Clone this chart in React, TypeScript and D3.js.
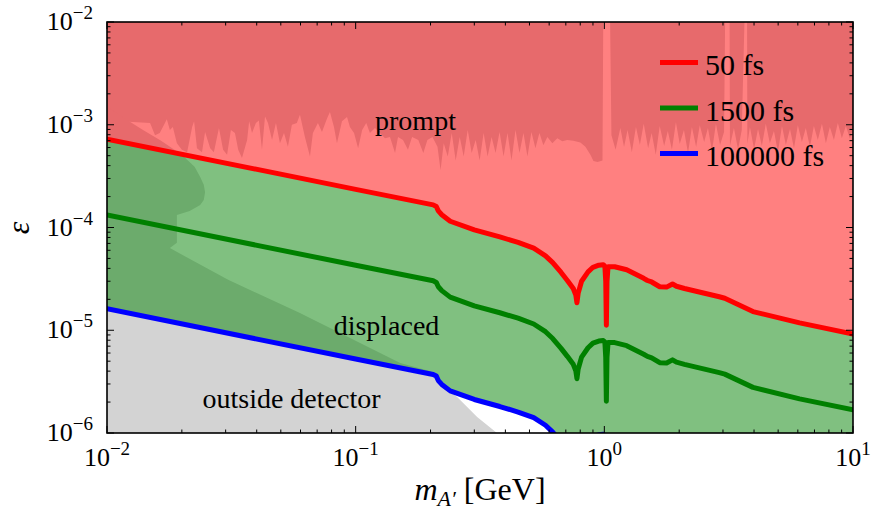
import React from 'react';
import * as d3 from 'd3';

// axis ranges
const massRange = [1e-2, 1e1];
const epsRange = [1e-6, 1e-2];
const xTickValues = [1e-2, 1e-1, 1e0, 1e1];
const xTickExps = ['\u22122', '\u22121', '0', '1'];
const yTickValues = [1e-6, 1e-5, 1e-4, 1e-3, 1e-2];
const yTickExps = ['\u22126', '\u22125', '\u22124', '\u22123', '\u22122'];

// lifetime contours
const lifetimes = ['50 fs', '1500 fs', '100000 fs'];
const lineMass = [
  0.01, 0.1, 0.205, 0.211, 0.215, 0.222, 0.24, 0.3, 0.38, 0.45, 0.52, 0.58, 0.62, 0.67, 0.71,
  0.75, 0.768, 0.776, 0.785, 0.81, 0.86, 0.9, 0.95, 0.99, 1.005, 1.013, 1.019, 1.025, 1.035,
  1.1, 1.23, 1.44, 1.49, 1.55, 1.67, 1.78, 1.88, 1.95, 2.1, 2.9, 3.05, 3.96, 6.1, 10,
];
const eps50 = [
  7.25e-4, 2.35e-4, 1.66e-4, 1.6e-4, 1.45e-4, 1.33e-4, 1.15e-4, 9.5e-5, 8.1e-5, 7.15e-5, 6.3e-5,
  5.3e-5, 4.55e-5, 3.65e-5, 3.05e-5, 2.55e-5, 2.2e-5, 1.85e-5, 2.3e-5, 3.0e-5, 3.7e-5, 4.1e-5,
  4.3e-5, 4.35e-5, 4.2e-5, 3.0e-5, 1.12e-5, 3.0e-5, 4.15e-5, 4.15e-5, 3.88e-5, 3.2e-5, 3.05e-5,
  2.95e-5, 2.65e-5, 2.63e-5, 2.82e-5, 2.68e-5, 2.55e-5, 2.12e-5, 2.05e-5, 1.52e-5, 1.18e-5, 9.2e-6,
];
const eps1500 = [
  1.324e-4, 4.29e-5, 3.03e-5, 2.92e-5, 2.65e-5, 2.43e-5, 2.1e-5, 1.73e-5, 1.48e-5, 1.31e-5, 1.15e-5,
  9.68e-6, 8.31e-6, 6.66e-6, 5.57e-6, 4.66e-6, 4.02e-6, 3.38e-6, 4.2e-6, 5.48e-6, 6.76e-6, 7.49e-6,
  7.85e-6, 7.94e-6, 7.67e-6, 5.48e-6, 2.04e-6, 5.48e-6, 7.58e-6, 7.58e-6, 7.08e-6, 5.84e-6, 5.57e-6,
  5.39e-6, 4.84e-6, 4.8e-6, 5.15e-6, 4.89e-6, 4.66e-6, 3.87e-6, 3.74e-6, 2.78e-6, 2.15e-6, 1.68e-6,
];
const eps100000 = [
  1.621e-5, 5.25e-6, 3.71e-6, 3.58e-6, 3.24e-6, 2.97e-6, 2.57e-6, 2.12e-6, 1.81e-6, 1.6e-6, 1.41e-6,
  1.19e-6, 1.02e-6, 8.16e-7, 6.82e-7, 5.7e-7, 4.92e-7, 4.14e-7, 5.14e-7, 6.71e-7, 8.27e-7, 9.17e-7,
  9.62e-7, 9.73e-7, 9.39e-7, 6.71e-7, 2.5e-7, 6.71e-7, 9.28e-7, 9.28e-7, 8.68e-7, 7.16e-7, 6.82e-7,
  6.6e-7, 5.93e-7, 5.88e-7, 6.31e-7, 5.99e-7, 5.7e-7, 4.74e-7, 4.58e-7, 3.4e-7, 2.64e-7, 2.06e-7,
];

// existing limits from above (prompt searches)
const promptMass = [
  0.01, 0.0149, 0.0156, 0.0163, 0.0171, 0.0174, 0.0179, 0.0184, 0.0191, 0.02, 0.021, 0.022, 0.0224,
  0.023, 0.0241, 0.0248, 0.026, 0.0269, 0.0282, 0.0293, 0.0304, 0.0315, 0.0327, 0.0337, 0.0349,
  0.0366, 0.0373, 0.0383, 0.0397, 0.0408, 0.042, 0.0432, 0.0444, 0.0461, 0.0478, 0.0496, 0.0515,
  0.0534, 0.0554, 0.058, 0.0597, 0.0625, 0.0655, 0.0673, 0.0705, 0.0732, 0.0767, 0.0788, 0.0818,
  0.0841, 0.0881, 0.0923, 0.0948, 0.0985, 0.1023, 0.1062, 0.1103, 0.1141, 0.1196, 0.1252, 0.1312,
  0.1374, 0.144, 0.148, 0.155, 0.1623, 0.1686, 0.1786, 0.1871, 0.1943, 0.2036, 0.2133, 0.2195,
  0.226, 0.2346, 0.2434, 0.2525, 0.2621, 0.2719, 0.2822, 0.2928, 0.3038, 0.3152, 0.327, 0.3393,
  0.3521, 0.3653, 0.379, 0.3933, 0.408, 0.4234, 0.4393, 0.4558, 0.4729, 0.4907, 0.5091, 0.5283,
  0.5481, 0.5687, 0.5901, 0.618, 0.647, 0.6775, 0.7095, 0.751, 0.801, 0.839, 0.879, 0.904, 0.939,
  0.983, 0.99, 1.055, 1.068, 1.11, 1.16, 1.2, 1.24, 1.29, 1.34, 1.39, 1.44, 1.5, 1.55, 1.61, 1.67,
  1.74, 1.8, 1.87, 1.94, 2.01, 2.09, 2.17, 2.25, 2.34, 2.42, 2.52, 2.61, 2.71, 2.81, 2.92, 3.03,
  3.06, 3.19, 3.2, 3.32, 3.45, 3.57, 3.66, 3.75, 3.76, 3.85, 4.0, 4.15, 4.3, 4.46, 4.63, 4.81,
  4.99, 5.18, 5.37, 5.58, 5.79, 6.0, 6.23, 6.46, 6.71, 6.96, 7.22, 7.5, 7.78, 8.07, 8.38, 8.69,
  9.02, 9.36, 9.72, 10,
];
const promptEps = [
  1.1e-3, 1.04e-3, 7.9e-4, 8.3e-4, 1.04e-3, 1.13e-3, 8.9e-4, 9.5e-4, 6.6e-4, 5.7e-4, 5.4e-4, 9.5e-4,
  1.08e-3, 5.9e-4, 5.4e-4, 8.5e-4, 5.9e-4, 5.4e-4, 9.3e-4, 5.7e-4, 5.1e-4, 8.9e-4, 8.3e-4, 5.7e-4,
  4.75e-4, 7.1e-4, 1.08e-3, 8.3e-4, 1.04e-3, 1.1e-3, 5.7e-4, 1.2e-3, 1.04e-3, 7.1e-4, 1.04e-3,
  6.6e-4, 8.3e-4, 6.1e-4, 1.0e-3, 1.04e-3, 1.25e-3, 7.6e-4, 4.9e-4, 8.3e-4, 1.04e-3, 8.5e-4,
  1.15e-3, 1.33e-3, 9.5e-4, 6.6e-4, 1.08e-3, 1.19e-3, 9.5e-4, 8.3e-4, 5.9e-4, 8.9e-4, 1.04e-3,
  8.3e-4, 9.3e-4, 8.3e-4, 7.4e-4, 7.6e-4, 5.3e-4, 7.6e-4, 7.1e-4, 5.7e-4, 7.6e-4, 7.1e-4, 5.3e-4,
  7.1e-4, 7.6e-4, 6.1e-4, 3.6e-4, 6.6e-4, 4.9e-4, 8.3e-4, 4.5e-4, 7.6e-4, 4.9e-4, 8.9e-4, 5.3e-4,
  7.1e-4, 4.5e-4, 8.3e-4, 4.9e-4, 7.6e-4, 5.3e-4, 8.5e-4, 4.9e-4, 8.3e-4, 4.5e-4, 8.9e-4, 5.3e-4,
  8.3e-4, 4.9e-4, 8.5e-4, 5.9e-4, 8.3e-4, 6.3e-4, 7.6e-4, 6.6e-4, 7.4e-4, 6.9e-4, 7.1e-4, 7.0e-4,
  6.7e-4, 6.1e-4, 5.1e-4, 4.45e-4, 4.35e-4, 4.5e-4, 1e-2, 1e-2, 7.9e-4, 5.7e-4, 9.3e-4, 6.07e-4,
  8.9e-4, 5.4e-4, 9.5e-4, 6.35e-4, 1.02e-3, 5.9e-4, 8.3e-4, 5.1e-4, 9.7e-4, 6.2e-4, 8.7e-4, 5.7e-4,
  1.06e-3, 6.5e-4, 8.9e-4, 5.3e-4, 9.5e-4, 6.07e-4, 9.9e-4, 6.8e-4, 9.3e-4, 5.55e-4, 1.02e-3,
  6.35e-4, 8.5e-4, 1e-2, 1e-2, 6.2e-4, 9.3e-4, 5.7e-4, 8.9e-4, 1e-2, 1e-2, 6.5e-4, 9.5e-4, 5.8e-4,
  9.1e-4, 6.2e-4, 1.02e-3, 6.6e-4, 8.7e-4, 5.4e-4, 9.7e-4, 6.35e-4, 9.1e-4, 5.9e-4, 9.9e-4, 6.8e-4,
  9.3e-4, 6.07e-4, 9.7e-4, 7.1e-4, 1.02e-3, 6.6e-4, 9.5e-4, 7.1e-4, 1.04e-3, 7.4e-4, 9.7e-4, 7.3e-4,
  9.3e-4,
];

// existing limits from below (beam dumps)
const dumpMass = [
  0.01, 0.0125, 0.01396, 0.0165, 0.02, 0.0225, 0.0237, 0.0245, 0.0248, 0.0245, 0.0237, 0.0215,
  0.0191, 0.0191, 0.0179, 0.0307, 0.0597, 0.151, 0.2, 0.214, 0.256, 0.308, 0.37, 0.01,
];
const dumpEps = [
  1.5e-3, 1.05e-3, 8.9e-4, 7.0e-4, 5.1e-4, 3.9e-4, 3.1e-4, 2.6e-4, 2.2e-4, 1.85e-4, 1.66e-4, 1.45e-4,
  1.32e-4, 7.1e-5, 6.3e-5, 3.1e-5, 1.47e-5, 4.8e-6, 4.0e-6, 3.1e-6, 2.24e-6, 1.43e-6, 1e-6, 1e-6,
];

const lineColors = ['#ff0000', '#008000', '#0000ff'];
const lightRed = '#ff8080';
const darkRed = '#e76a6c';
const lightGreen = '#80c080';
const darkGreen = '#6cab6c';
const gray = '#d3d3d3';

export default function App() {
  const width = 872;
  const height = 510;
  const x = d3.scaleLog().domain(massRange).range([107, 853]);
  const y = d3.scaleLog().domain(epsRange).range([433, 22]);
  const [x0, x1] = x.range();
  const [yb, yt] = y.range();
  const font = '"Liberation Serif", "DejaVu Serif", serif';

  const pts = (ms: number[], es: number[]) => ms.map((m, i) => [x(m), y(es[i])] as [number, number]);
  const line = d3.line();

  const series = [eps50, eps1500, eps100000].map(e => pts(lineMass, e));
  const red = series[0];
  const blue = series[2];

  const aboveRed = line([...red, [x1, yt - 5], [x0, yt - 5]]) + 'Z';
  const between = line([...red, ...blue.slice().reverse()]) + 'Z';
  const belowBlue = line([...blue, [x1, yb + 300], [x0, yb + 300]]) + 'Z';
  const promptPath = line([...pts(promptMass, promptEps), [x1, yt - 5], [x0, yt - 5]]) + 'Z';
  const dumpPath = line(pts(dumpMass, dumpEps)) + 'Z';

  const isMajor = (t: number) => Math.abs(Math.log10(t) - Math.round(Math.log10(t))) < 1e-6;
  const xt = x.ticks();
  const ytk = y.ticks();

  return (
    <svg width={width} height={height} style={{ position: 'absolute', left: 0, top: 0, background: '#fff', fontFamily: font }}>
      <defs>
        <clipPath id="plot"><rect x={x0} y={yt} width={x1 - x0} height={yb - yt} /></clipPath>
        <clipPath id="cRed"><path d={aboveRed} /></clipPath>
        <clipPath id="cMid"><path d={between} /></clipPath>
        <clipPath id="cLow"><path d={belowBlue} /></clipPath>
      </defs>

      <g clipPath="url(#plot)">
        <path d={aboveRed} fill={lightRed} />
        <path d={between} fill={lightGreen} />
        <path d={belowBlue} fill="#ffffff" />
        <g clipPath="url(#cRed)">
          <path d={promptPath} fill={darkRed} />
          <path d={dumpPath} fill={darkRed} />
        </g>
        <g clipPath="url(#cMid)">
          <path d={promptPath} fill={darkGreen} />
          <path d={dumpPath} fill={darkGreen} />
        </g>
        <g clipPath="url(#cLow)">
          <path d={dumpPath} fill={gray} />
        </g>
        {series.map((s, i) => (
          <path key={lifetimes[i]} d={line(s) || ''} fill="none" stroke={lineColors[i]}
            strokeWidth={5} strokeLinejoin="round" strokeLinecap="round" />
        ))}
      </g>

      {/* region labels */}
      <text x={415.5} y={130} fontSize={28} textAnchor="middle">prompt</text>
      <text x={386.5} y={335} fontSize={28} textAnchor="middle">displaced</text>
      <text x={291.5} y={408} fontSize={28} textAnchor="middle">outside detector</text>

      {/* legend */}
      {lifetimes.map((l, i) => (
        <g key={l} transform={`translate(660,${62.5 + i * 45.5})`}>
          <line x1={0} x2={38} y1={0} y2={0} stroke={lineColors[i]} strokeWidth={5} />
          <text x={45} y={12.5} fontSize={30}>{l}</text>
        </g>
      ))}

      {/* frame and ticks */}
      <rect x={x0} y={yt} width={x1 - x0} height={yb - yt} fill="none" stroke="#000" strokeWidth={1.6} />
      {xt.map((t, i) => {
        const len = isMajor(t) ? 7 : 3.5;
        const px = x(t);
        return (
          <g key={'x' + i} stroke="#000" strokeWidth={1}>
            <line x1={px} x2={px} y1={yb} y2={yb - len} />
            <line x1={px} x2={px} y1={yt} y2={yt + len} />
          </g>
        );
      })}
      {ytk.map((t, i) => {
        const len = isMajor(t) ? 7 : 3.5;
        const py = y(t);
        return (
          <g key={'y' + i} stroke="#000" strokeWidth={1}>
            <line x1={x0} x2={x0 + len} y1={py} y2={py} />
            <line x1={x1} x2={x1 - len} y1={py} y2={py} />
          </g>
        );
      })}
      {xTickValues.map((t, i) => (
        <text key={'xl' + i} x={x(t)} y={466} fontSize={26} textAnchor="middle">
          10<tspan dy={-11} fontSize={19}>{xTickExps[i]}</tspan>
        </text>
      ))}
      {yTickValues.map((t, i) => (
        <text key={'yl' + i} x={93} y={y(t) + 8} fontSize={26} textAnchor="end">
          10<tspan dy={-11} fontSize={19}>{yTickExps[i]}</tspan>
        </text>
      ))}

      {/* axis labels */}
      <text x={480} y={500} fontSize={32} textAnchor="middle">
        <tspan fontStyle="italic">m</tspan>
        <tspan fontStyle="italic" fontSize={22} dy={6}>A{'\u2032'}</tspan>
        <tspan dy={-6}> [GeV]</tspan>
      </text>
      <text transform="translate(29,228) rotate(-90)" fontSize={32} fontStyle="italic" textAnchor="middle">ε</text>
    </svg>
  );
}
